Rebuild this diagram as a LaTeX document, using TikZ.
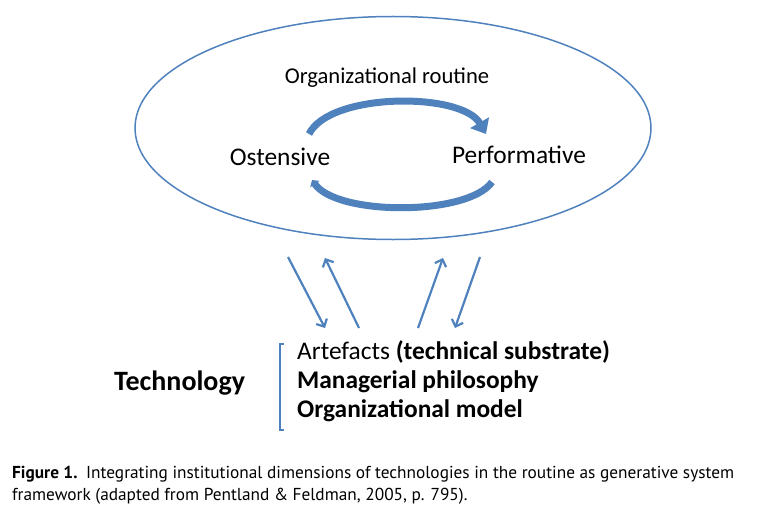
\documentclass[tikz,border=0pt]{standalone}
\usepackage{fontspec}
\setmainfont{Carlito}
\newfontfamily\capfont{PT Sans}
\usetikzlibrary{arrows.meta,shapes.geometric}
\definecolor{offblue}{HTML}{4F81BD}
\tikzset{
  lbl/.style={inner sep=0pt, font=\fontsize{25.4}{28}\selectfont},
  blbl/.style={inner sep=0pt, font=\fontsize{25.4}{28}\selectfont\bfseries},
  straight/.style={draw=offblue, line width=2.2pt, -{Straight Barb[length=6pt,width=12pt]}},
  cyc/.style={draw=offblue, line width=7pt},
  caption/.style={inner sep=0pt, anchor=base west, font=\capfont\fontsize{17.3}{20}\selectfont},
}
\begin{document}
\begin{tikzpicture}[x=1pt,y=-1pt]
\useasboundingbox (0,0) rectangle (775,516);
% ellipse
\node[draw=offblue, line width=1.5pt, ellipse, minimum width=516pt, minimum height=223pt, inner sep=0pt] (ell) at (393,128) {};
% texts in ellipse
\node[lbl, font=\fontsize{22.6}{26}\selectfont] (routine) at (387,78) {Organizational routine};
\node[lbl] (ost) at (280,157) {Ostensive};
\node[lbl] (perf) at (519,155) {Performative};
% cycle arrows
\coordinate (ua) at (309,134);
\coordinate (ub) at (486,134);
\coordinate (la) at (312,180);
\coordinate (lb) at (492,182);
\draw[cyc, -{Triangle[length=13pt,width=21pt]}] (ua) .. controls (330,92) and (462,92) .. (ub);
\draw[cyc, {Triangle[length=5pt,width=11pt]}-] (la) .. controls (337,216) and (468,216) .. (lb);
% straight arrows
\coordinate (a1s) at (288,257);
\coordinate (a1e) at (325,328);
\coordinate (a2s) at (359,328);
\coordinate (a2e) at (325,258);
\coordinate (a3s) at (418,328);
\coordinate (a3e) at (443,258);
\coordinate (a4s) at (480,257);
\coordinate (a4e) at (455,328);
\draw[straight] (a1s) -- (a1e);
\draw[straight] (a2s) -- (a2e);
\draw[straight] (a3s) -- (a3e);
\draw[straight] (a4s) -- (a4e);
% bracket
\coordinate (bt) at (284,344);
\coordinate (bb) at (284,430);
\draw[offblue, line width=1.6pt] (bt) -- ++(-4,0) |- (bb);
% technology block
\node[blbl, anchor=west, font=\fontsize{28}{32}\selectfont\bfseries] (tech) at (114,383) {Technology};
\node[lbl, anchor=west] (art) at (297,352) {Artefacts \textbf{(technical substrate)}};
\node[blbl, anchor=west] (man) at (297,382) {Managerial philosophy};
\node[blbl, anchor=west] (org) at (297,411) {Organizational model};
% caption
\node[caption] (cap1) at (12,478) {\textbf{Figure 1.}\enspace Integrating institutional dimensions of technologies in the routine as generative system};
\node[caption] (cap2) at (12,500) {framework (adapted from Pentland \& Feldman, 2005, p. 795).};
\end{tikzpicture}
\end{document}
